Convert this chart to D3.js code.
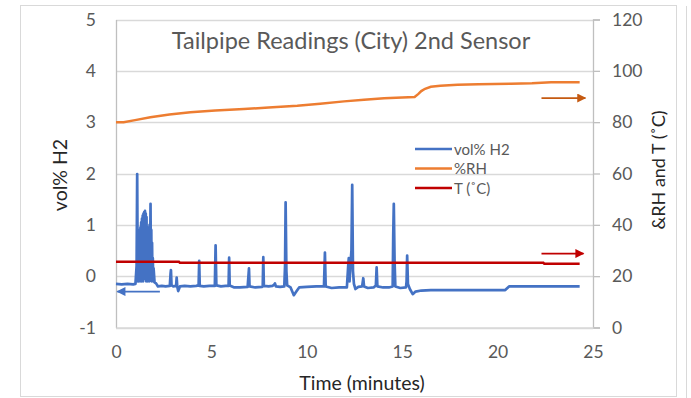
<!DOCTYPE html>
<html>
<head>
<meta charset="utf-8">
<script src="https://cdn.jsdelivr.net/npm/d3@7"></script>
<style>
  body { margin: 0; background: #fff; }
  text { font-family: Lato, "Open Sans", sans-serif; }
</style>
</head>
<body>
<div id="chart"></div>
<script>
var w = 691, h = 398;

// vol% H2 (left axis)
var h2Time = [0, 0.3, 0.6, 0.9, 1.02, 1.08, 1.11, 1.14,
  1.16, 1.18, 1.20, 1.22, 1.24, 1.26, 1.28, 1.30, 1.32, 1.34, 1.36, 1.38, 1.40, 1.42, 1.44, 1.46, 1.48, 1.50,
  1.52, 1.54, 1.56, 1.58, 1.60, 1.62, 1.64, 1.66, 1.68, 1.70, 1.72, 1.74, 1.76, 1.78, 1.81, 1.83, 1.85, 1.87,
  1.89, 1.91, 1.93, 1.95, 1.97, 2.02, 2.1, 2.2, 2.4, 2.6, 2.82, 2.86, 2.88, 2.91, 3.0, 3.15, 3.18, 3.21, 3.26,
  3.35, 3.6, 3.9, 4.2, 4.33, 4.36, 4.39, 4.6, 4.9, 5.18, 5.22, 5.26, 5.5, 5.75, 5.9, 5.93, 5.96, 6.2, 6.5, 6.9,
  6.97, 7.0, 7.3, 7.65, 7.69, 7.72, 7.75, 8.0, 8.2, 8.28, 8.33, 8.38, 8.6, 8.82, 8.86, 8.89, 8.93, 8.97, 9.15,
  9.32, 9.45, 9.6, 10.0, 10.5, 10.9, 10.95, 10.99, 11.3, 11.7, 12.1, 12.17, 12.2, 12.24, 12.3, 12.34, 12.38,
  12.42, 12.47, 12.55, 12.7, 12.9, 12.96, 13.0, 13.2, 13.5, 13.62, 13.66, 13.7, 14.0, 14.3, 14.5, 14.53, 14.56,
  14.6, 14.64, 14.9, 15.2, 15.23, 15.26, 15.3, 15.4, 15.55, 15.7, 16.0, 16.5, 17.5, 18.5, 19.5, 20.4, 20.6,
  21.5, 22.5, 23.5, 24.3];
var h2Value = [-0.15, -0.16, -0.15, -0.16, -0.15, 0.2, 1.99, -0.1,
  0.7, -0.1, 0.85, -0.05, 0.9, -0.1, 0.95, 0.0, 1.05, -0.1, 1.12, 0.0, 1.18, -0.1, 1.22, 0.05, 1.25, -0.05,
  1.27, 0.0, 1.22, -0.1, 1.15, 0.05, 0.9, -0.1, 0.85, 0.0, 0.95, -0.1, 1.0, 0.0, 1.41, -0.05, 0.9, -0.1,
  0.65, -0.05, 0.35, -0.1, 0.15, -0.12, -0.14, -0.2, -0.19, -0.2, -0.19, 0.05, 0.12, -0.18, -0.2, -0.19, -0.03, -0.2, -0.29,
  -0.2, -0.19, -0.2, -0.19, -0.18, 0.30, -0.19, -0.2, -0.19, -0.19, 0.6, -0.18, -0.2, -0.19, -0.19, 0.36, -0.18, -0.22, -0.22, -0.21,
  0.15, -0.2, -0.22, -0.21, -0.2, 0.37, -0.19, -0.2, -0.19, -0.17, -0.14, -0.2, -0.21, -0.2, 0.2, 1.44, 0.1, -0.18, -0.22,
  -0.37, -0.3, -0.22, -0.21, -0.2, -0.2, 0.46, -0.2, -0.23, -0.22, -0.22, 0.2, 0.35, -0.1, 0.3, 0.5, 1.78,
  0.1, -0.15, -0.25, -0.21, -0.2, -0.04, -0.2, -0.23, -0.22, -0.18, 0.17, -0.2, -0.22, -0.22, -0.2, 0.8, 1.41,
  0.3, -0.2, -0.23, -0.22, -0.1, 0.40, -0.15, -0.25, -0.35, -0.3, -0.28, -0.27, -0.27, -0.27, -0.27, -0.27, -0.2,
  -0.2, -0.2, -0.2, -0.2];

// %RH (right axis)
var rhTime = [0, 0.4, 1.0, 1.8, 2.8, 3.9, 5.2, 6.7, 8.0, 9.5, 10.7, 11.95, 13.0, 14.05, 15.0, 15.65, 15.85,
  16.0, 16.2, 16.5, 17.0, 17.9, 19.0, 20.7, 21.8, 22.8, 24.3];
var rhValue = [80, 80, 80.8, 81.9, 83, 83.9, 84.5, 85.1, 85.7, 86.4, 87.2, 88.1, 88.7, 89.3, 89.6, 89.8, 91,
  92.1, 93.0, 93.8, 94.2, 94.6, 94.8, 95.0, 95.2, 95.6, 95.6];

// T (right axis)
var tTime = [0, 3.3, 3.35, 22.4, 22.45, 24.3];
var tValue = [25.6, 25.6, 25.2, 25.2, 24.8, 24.8];

var leftTicks = [-1, 0, 1, 2, 3, 4, 5];
var rightTicks = [0, 20, 40, 60, 80, 100, 120];
var xTicks = [0, 5, 10, 15, 20, 25];

var seriesNames = ["vol% H2", "%RH", "T (˚C)"];
var seriesColors = ["#4472C4", "#ED7D31", "#C00000"];

// axis pointer arrows: start time, end time, value, which axis
var arrowFrom = [2.3, 22.3, 22.3];
var arrowTo = [0.07, 24.6, 24.5];
var arrowValue = [-0.30, 89.4, 28.8];
var arrowAxis = ["left", "right", "right"];
var arrowColors = ["#4472C4", "#C55A11", "#C00000"];

var plotLeft = 116, plotRight = 593, plotTop = 19.5, plotBottom = 327.5;

var x = d3.scaleLinear().domain([0, 25]).range([plotLeft, plotRight]);
var yL = d3.scaleLinear().domain([-1, 5]).range([plotBottom, plotTop]);
var yR = d3.scaleLinear().domain([0, 120]).range([plotBottom, plotTop]);

var plain = function(d) { return String(d); };

var svg = d3.select("#chart").append("svg")
  .attr("width", w)
  .attr("height", h)
  .style("display", "block");

// chart frame
svg.append("rect")
  .attr("x", 20.5).attr("y", 5.5).attr("width", 656).attr("height", 391)
  .attr("fill", "none").attr("stroke", "#d9d9d9");
svg.append("line")
  .attr("x1", 686.5).attr("x2", 686.5).attr("y1", 6).attr("y2", h)
  .attr("stroke", "#d9d9d9");

// gridlines
svg.append("g").selectAll("line")
  .data(leftTicks)
  .enter().append("line")
  .attr("x1", plotLeft).attr("x2", plotRight)
  .attr("y1", function(d) { return Math.round(yL(d)) + 0.5; })
  .attr("y2", function(d) { return Math.round(yL(d)) + 0.5; })
  .attr("stroke", "#d9d9d9").attr("stroke-width", 1.3);

// left axis
var gL = svg.append("g")
  .attr("transform", "translate(" + plotLeft + ",0)")
  .call(d3.axisLeft(yL).tickValues(leftTicks).tickSize(0).tickPadding(20).tickFormat(plain));

// right axis
var gR = svg.append("g")
  .attr("transform", "translate(" + plotRight + ",0)")
  .call(d3.axisRight(yR).tickValues(rightTicks).tickSize(7).tickPadding(12).tickFormat(plain));

// bottom axis (labels only)
var gB = svg.append("g")
  .attr("transform", "translate(0," + plotBottom + ")")
  .call(d3.axisBottom(x).tickValues(xTicks).tickSize(0).tickPadding(18).tickFormat(plain));

[gL, gR, gB].forEach(function(g) {
  g.select(".domain").attr("stroke", "#bfbfbf").attr("stroke-width", 1.3);
  g.selectAll(".tick line").attr("stroke", "#bfbfbf").attr("stroke-width", 1.3);
  g.selectAll(".tick text").attr("fill", "#595959").style("font-size", "17.5px")
    .style("font-family", "Lato, sans-serif");
});
gB.select(".domain").attr("stroke", "#d9d9d9");

// series
var lineL = d3.line().x(function(d) { return x(d[0]); }).y(function(d) { return yL(d[1]); });
var lineR = d3.line().x(function(d) { return x(d[0]); }).y(function(d) { return yR(d[1]); });

svg.append("path")
  .datum(rhTime.map(function(t, i) { return [t, rhValue[i]]; }))
  .attr("d", lineR)
  .attr("fill", "none").attr("stroke", seriesColors[1]).attr("stroke-width", 2.5);

svg.append("path")
  .datum(h2Time.map(function(t, i) { return [t, h2Value[i]]; }))
  .attr("d", lineL)
  .attr("fill", "none").attr("stroke", seriesColors[0]).attr("stroke-width", 2.7)
  .attr("stroke-linejoin", "round");

svg.append("path")
  .datum(tTime.map(function(t, i) { return [t, tValue[i]]; }))
  .attr("d", lineR)
  .attr("fill", "none").attr("stroke", seriesColors[2]).attr("stroke-width", 2.5);

// arrows
var defs = svg.append("defs");
arrowColors.forEach(function(c, i) {
  defs.append("marker")
    .attr("id", "arrow" + i)
    .attr("viewBox", "0 0 10 10")
    .attr("refX", 9).attr("refY", 5)
    .attr("markerUnits", "userSpaceOnUse")
    .attr("markerWidth", 11).attr("markerHeight", 9)
    .attr("orient", "auto")
    .append("path")
    .attr("d", "M0,0L10,5L0,10Z")
    .attr("fill", c);
});

arrowFrom.forEach(function(t0, i) {
  var ys = arrowAxis[i] == "left" ? yL : yR;
  svg.append("line")
    .attr("x1", x(t0)).attr("x2", x(arrowTo[i]))
    .attr("y1", ys(arrowValue[i])).attr("y2", ys(arrowValue[i]))
    .attr("stroke", arrowColors[i])
    .attr("stroke-width", 1.8)
    .attr("marker-end", "url(#arrow" + i + ")");
});

// legend
var legend = svg.append("g").attr("transform", "translate(415,149)");
var lg = legend.selectAll("g")
  .data(seriesNames)
  .enter().append("g")
  .attr("transform", function(d, i) { return "translate(0," + (i * 19.5) + ")"; });
lg.append("line")
  .attr("x1", 0).attr("x2", 37)
  .attr("stroke", function(d, i) { return seriesColors[i]; })
  .attr("stroke-width", 2.5);
lg.append("text")
  .attr("x", 39).attr("y", 5.5)
  .attr("fill", "#595959")
  .style("font-size", "15px")
  .text(function(d) { return d; });

// titles
svg.append("text")
  .attr("x", 351).attr("y", 49)
  .attr("text-anchor", "middle")
  .attr("fill", "#595959")
  .style("font-size", "23.5px")
  .text("Tailpipe Readings (City) 2nd Sensor");

svg.append("text")
  .attr("x", 362).attr("y", 390)
  .attr("text-anchor", "middle")
  .attr("fill", "#262626")
  .style("font-size", "19.5px")
  .text("Time (minutes)");

svg.append("text")
  .attr("transform", "translate(67,175) rotate(-90)")
  .attr("text-anchor", "middle")
  .attr("fill", "#262626")
  .style("font-size", "19.5px")
  .text("vol% H2");

svg.append("text")
  .attr("transform", "translate(665,170) rotate(-90)")
  .attr("text-anchor", "middle")
  .attr("fill", "#262626")
  .style("font-size", "18px")
  .text("&RH and T (˚C)");
</script>
</body>
</html>
